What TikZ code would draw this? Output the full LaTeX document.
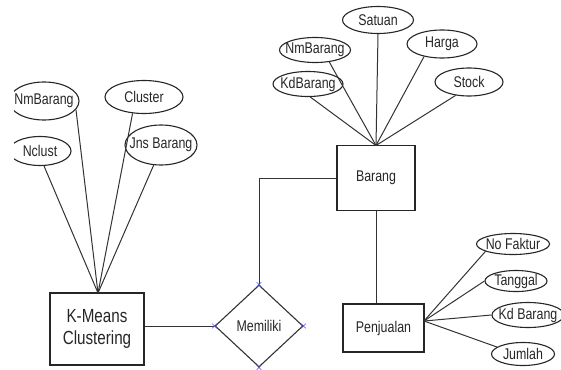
\documentclass[tikz,border=0pt]{standalone}
\usepackage{fontspec}
\setmainfont{Liberation Sans}[FakeStretch=0.8]
\usetikzlibrary{shapes.geometric,shapes.misc}
\begin{document}
\begin{tikzpicture}[x=1pt,y=-1pt,
  attr/.style n args={2}{draw=black!85, ellipse, line width=1.1pt, inner sep=0pt,
     minimum width=#1, minimum height=#2, text=black!85, font=\fontsize{15.5}{17}\selectfont},
  entity/.style={draw=black!85, rectangle, line width=1.4pt, inner sep=0pt, text=black!85},
  rel/.style={draw=black!80, diamond, line width=1.1pt, inner sep=0pt, aspect=1.07,
     minimum width=88pt, minimum height=82pt, text=black!85, font=\fontsize{15.5}{17}\selectfont},
  link/.style={draw=black!80, line width=1pt},
  xmark/.style={draw=blue!70, cross out, line width=0.6pt, inner sep=0pt, minimum size=4pt}]
\useasboundingbox (0,0) rectangle (561,369);
\begin{scope}
\clip (14,0) rectangle (561,369);
% entities
\node[entity, minimum width=94pt, minimum height=72pt, align=center,
      font=\fontsize{19}{22}\selectfont] (km) at (97,329) {K-Means\\Clustering};
\node[entity, minimum width=78pt, minimum height=65pt, font=\fontsize{15.5}{17}\selectfont] (bar) at (376,178) {Barang};
\node[entity, minimum width=81pt, minimum height=48pt, font=\fontsize{15.5}{17}\selectfont] (pen) at (383.5,328) {Penjualan};
\node[rel] (mem) at (259,326) {Memiliki};
% attributes of K-Means
\node[attr={70pt}{38pt}] (nm1) at (44,101) {\makebox[0pt]{NmBarang}};
\node[attr={78pt}{33pt}] (cl) at (144,97) {\makebox[0pt]{Cluster}};
\node[attr={62pt}{29pt}] (nc) at (40,151) {\makebox[0pt]{Nclust}};
\node[attr={72pt}{40pt}] (jns) at (161,145) {\makebox[0pt]{Jns Barang}};
% attributes of Barang
\node[attr={71pt}{27pt}] (sat) at (378,20) {\makebox[0pt]{Satuan}};
\node[attr={71pt}{25pt}] (nm2) at (315,50) {\makebox[0pt]{NmBarang}};
\node[attr={70pt}{28pt}] (hg) at (442,44) {\makebox[0pt]{Harga}};
\node[attr={70pt}{25pt}] (kd) at (308,84) {\makebox[0pt]{KdBarang}};
\node[attr={68pt}{28pt}] (st) at (469,82) {\makebox[0pt]{Stock}};
% attributes of Penjualan
\node[attr={73pt}{21pt}] (nf) at (513,244) {\makebox[0pt]{No Faktur}};
\node[attr={62pt}{21pt}] (tg) at (516,281) {\makebox[0pt]{Tanggal}};
\node[attr={72pt}{25pt}] (kdb) at (528,315) {\makebox[0pt]{Kd Barang}};
\node[attr={63pt}{23pt}] (jm) at (523,354) {\makebox[0pt]{Jumlah}};
% convergence points
\coordinate (kmtop) at (98,293);
\coordinate (bartop) at (376,145.5);
\coordinate (penr) at (424,321);
\coordinate (bend) at (259,178);
% connectors
\draw[link] (kmtop) -- (nm1.345);
\draw[link] (kmtop) -- (cl.235);
\draw[link] (kmtop) -- (nc.285);
\draw[link] (kmtop) -- (jns.250);
\draw[link] (bartop) -- (nm2.320);
\draw[link] (bartop) -- (kd.280);
\draw[link] (bartop) -- (sat.south);
\draw[link] (bartop) -- (hg.215);
\draw[link] (bartop) -- (st.225);
\draw[link] (penr) -- (nf.195);
\draw[link] (penr) -- (tg.west);
\draw[link] (penr) -- (kdb.west);
\draw[link] (penr) -- (jm.165);
\draw[link] (km.east |- mem.west) -- (mem.west);
\draw[link] (bar.west) -- (bend) -- (mem.north);
\draw[link] (bar.south) -- (pen.north -| bar.south);
% connection markers
\node[xmark] (mx1) at (mem.north) {};
\node[xmark] (mx2) at (mem.west) {};
\node[xmark] (mx3) at (mem.east) {};
\node[xmark] (mx4) at (mem.south) {};
\end{scope}
\end{tikzpicture}
\end{document}
